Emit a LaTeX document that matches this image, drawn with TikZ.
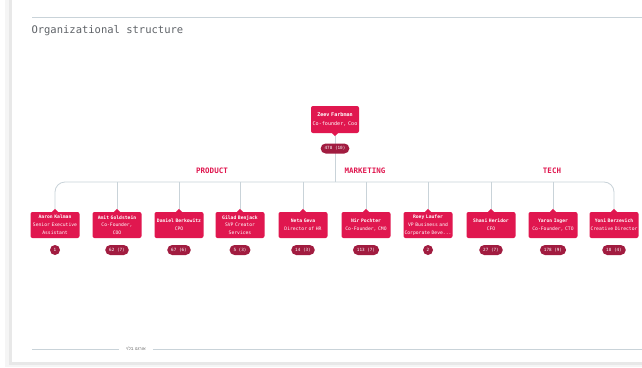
\documentclass[tikz,border=0pt]{standalone}
\usepackage{fontspec}
\setmonofont{DejaVu Sans Mono}
\newfontfamily\hebfont[Script=Hebrew]{Liberation Sans}
\TeXXeTstate=1
\definecolor{boxred}{HTML}{E0174F}
\definecolor{badgered}{HTML}{A11C40}
\definecolor{linegray}{HTML}{C9D3D9}
\definecolor{titlegray}{HTML}{5F6368}
\tikzset{
	person/.style={fill=boxred,text=white,rounded corners=2pt,text width=48.6pt,align=center,minimum height=26pt,inner xsep=0.2pt,inner ysep=1pt,font=\ttfamily\fontsize{4.7}{7.8}\selectfont},
	count/.style={fill=badgered,text=white,rounded corners=5pt,minimum height=10pt,minimum width=10pt,inner xsep=4pt,inner ysep=0pt,font=\ttfamily\fontsize{4.3}{5}\selectfont},
	tree/.style={draw=linegray,line width=0.8pt},
	group/.style={text=boxred,font=\ttfamily\bfseries\fontsize{7.5}{8}\selectfont}
}
\begin{document}
\begin{tikzpicture}[x=1pt,y=-1pt]
	\useasboundingbox (0,0) rectangle (642,367);
	% card and its shadow
	\fill[black!4] (5,-10) rectangle (660,367);
	\fill[black!9] (9,-10) rectangle (660,364.5);
	\fill[white] (12,-10) rectangle (660,362);
	\draw[tree] (32,17) -- (642,17);
	\node[anchor=west,text=titlegray,font=\ttfamily\fontsize{10.5}{12}\selectfont] (title) at (28,31) {Organizational structure};

	% people
	\node[person,text width=46pt,minimum height=27pt,inner xsep=1pt,font=\ttfamily\fontsize{5.1}{8.4}\selectfont] (zeev) at (335,119.5) {\textbf{Zeev Farbman}\\Co-founder, Coo};
	\node[person] (aaron) at (55,225) {\textbf{Aaron Kalman}\\Senior Executive Assistant};
	\node[person] (amit) at (117,225) {\textbf{Amit Goldstein}\\Co-Founder,\\COO};
	\node[person] (daniel) at (179,225) {\textbf{Daniel Berkowitz}\\CPO};
	\node[person] (gilad) at (240,225) {\textbf{Gilad Benjack}\\SVP Creator\\Services};
	\node[person] (neta) at (303,225) {\textbf{Neta Geva}\\Director of HR};
	\node[person] (nir) at (366,225) {\textbf{Nir Pochter}\\Co-Founder, CMO};
	\node[person] (roey) at (428,225) {\textbf{Roey Laufer}\\VP Business and\\Corporate Deve...};
	\node[person] (shani) at (491,225) {\textbf{Shani Heridor}\\CFO};
	\node[person] (yaron) at (553,225) {\textbf{Yaron Inger}\\Co-Founder, CTO};
	\node[person] (yoni) at (614,225) {\textbf{Yoni Berzevich}\\Creative Director};

	% pointers
	\fill[boxred] ([xshift=-3pt]zeev.south) -- ([yshift=-3pt]zeev.south) -- ([xshift=3pt]zeev.south) -- cycle;
	\foreach \p in {aaron,amit,daniel,gilad,neta,nir,roey,shani,yaron,yoni}
		\fill[boxred] ([xshift=-3pt]\p.north) -- ([yshift=3pt]\p.north) -- ([xshift=3pt]\p.north) -- cycle;

	% tree
	\coordinate (bar) at (335,182);
	\draw[tree] ([yshift=-3pt]zeev.south) -- (bar);
	\draw[tree,rounded corners=10pt] ([yshift=3pt]aaron.north) |- (bar) -| ([yshift=3pt]yoni.north);
	\foreach \p in {amit,daniel,gilad,neta,nir,roey,shani,yaron}
		\draw[tree] ([yshift=3pt]\p.north) -- (\p.north |- bar);

	\node[group] (product) at (212,171) {PRODUCT};
	\node[group] (marketing) at (365,171) {MARKETING};
	\node[group] (tech) at (552,171) {TECH};

	% head counts
	\node[count] (zeevcount) at (335,148.5) {478 (10)};
	\node[count,inner xsep=0pt] (aaroncount) at (55,250) {1};
	\node[count] (amitcount) at (117,250) {62 (7)};
	\node[count] (danielcount) at (179,250) {67 (6)};
	\node[count] (giladcount) at (240,250) {5 (3)};
	\node[count] (netacount) at (303,250) {14 (3)};
	\node[count] (nircount) at (366,250) {113 (7)};
	\node[count,inner xsep=0pt] (roeycount) at (428,250) {2};
	\node[count] (shanicount) at (491,250) {27 (7)};
	\node[count] (yaroncount) at (553,250) {178 (9)};
	\node[count] (yonicount) at (614,250) {18 (4)};

	% footer
	\node[text=black!55,font=\hebfont\fontsize{4.5}{5}\selectfont,inner sep=0pt] (footer) at (136,349) {\beginR אורגנו בלוי\endR};
	\draw[tree] (32,349) -- ([xshift=-7pt]footer.west);
	\draw[tree] ([xshift=7pt]footer.east) -- (642,349);
\end{tikzpicture}
\end{document}
